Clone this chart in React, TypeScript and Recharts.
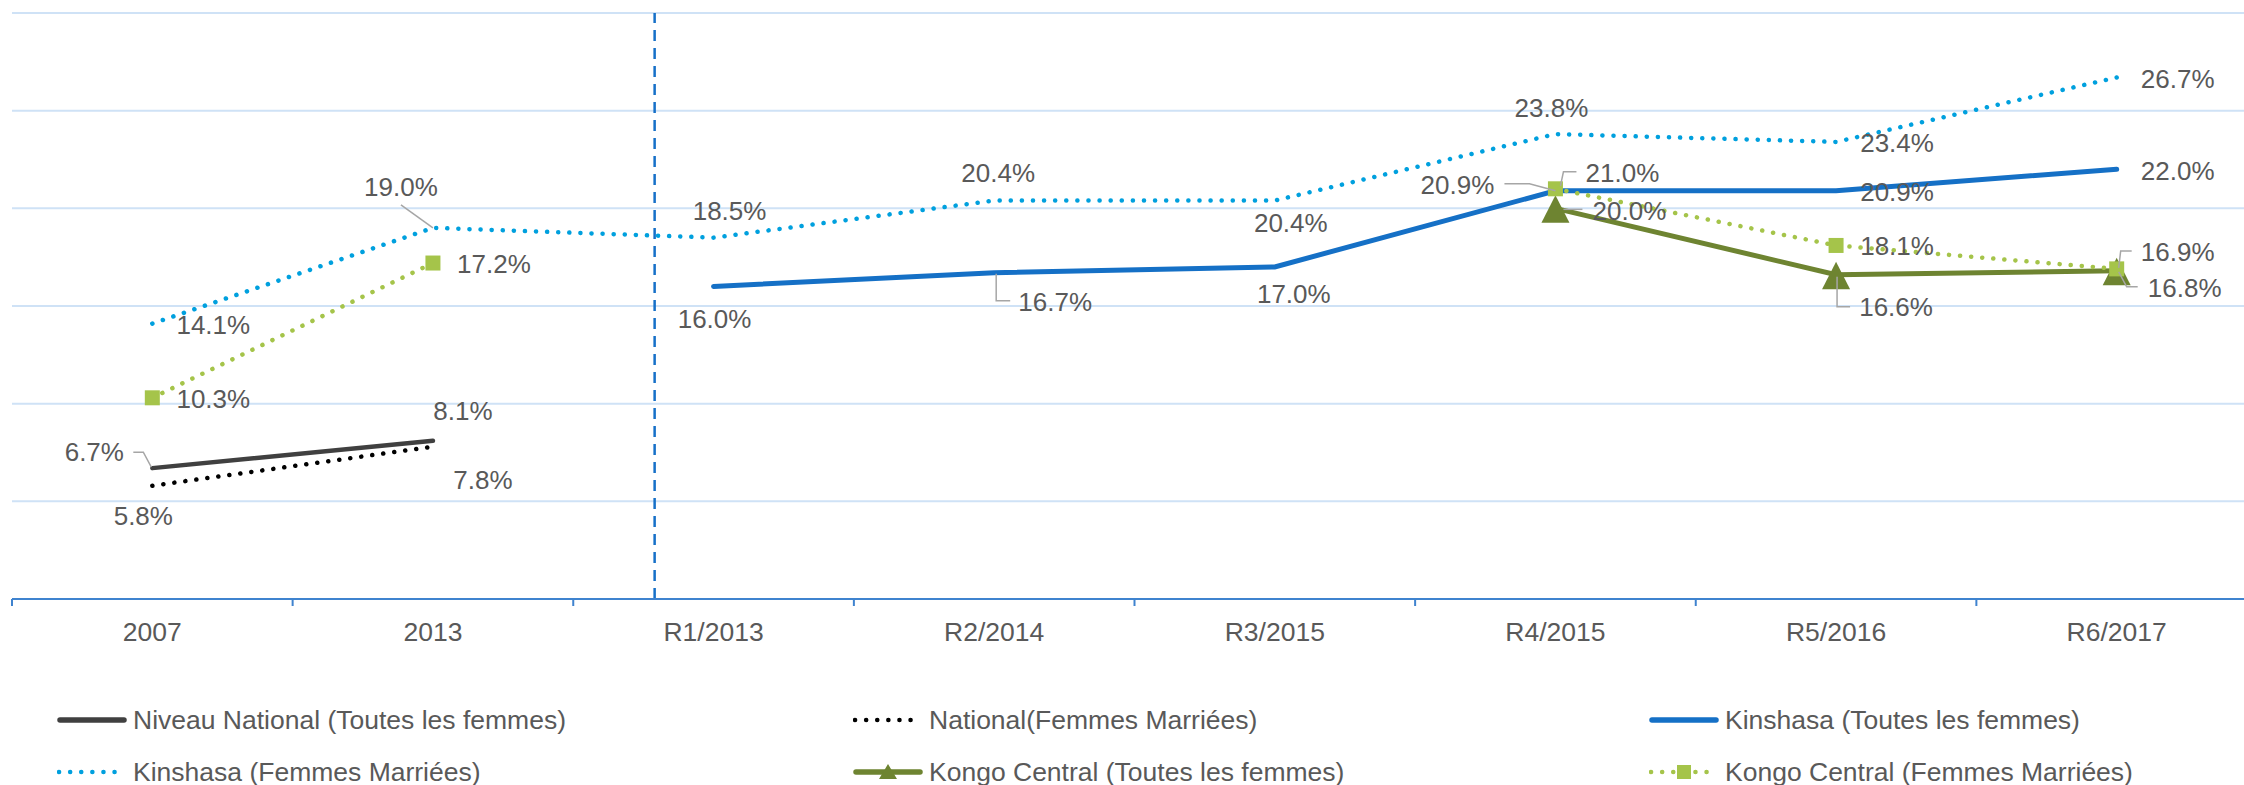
import React from 'react';
import { LineChart, Line, XAxis, YAxis, CartesianGrid, ReferenceLine, Legend } from 'recharts';

// ---------- DATA ----------
const categories = ['2007', '2013', 'R1/2013', 'R2/2014', 'R3/2015', 'R4/2015', 'R5/2016', 'R6/2017'];
const nationalToutes = [6.7, 8.1, null, null, null, null, null, null];
const nationalMariees = [5.8, 7.8, null, null, null, null, null, null];
const kinshasaToutes = [null, null, 16.0, 16.7, 17.0, 20.9, 20.9, 22.0];
const kinshasaMariees = [14.1, 19.0, 18.5, 20.4, 20.4, 23.8, 23.4, 26.7];
const kongoToutes = [null, null, null, null, null, 20.0, 16.6, 16.8];
const kongoMariees = [10.3, 17.2, null, null, null, 21.0, 18.1, 16.9];
const yTicks = [0, 5, 10, 15, 20, 25, 30];
const dividerPosition = 1.79;

const seriesNames = {
  natT: 'Niveau National (Toutes les femmes)',
  natM: 'National(Femmes Marriées)',
  kinT: 'Kinshasa (Toutes les femmes)',
  kinM: 'Kinshasa (Femmes Marriées)',
  kcT: 'Kongo Central (Toutes les femmes)',
  kcM: 'Kongo Central (Femmes Marriées)',
};

const data = categories.map((c, i) => ({
  idx: i,
  cat: c,
  natT: nationalToutes[i],
  natM: nationalMariees[i],
  kinT: kinshasaToutes[i],
  kinM: kinshasaMariees[i],
  kcT: kongoToutes[i],
  kcM: kongoMariees[i],
}));

const centerTicks = categories.map((_, i) => i);
const boundaryTicks = [...categories.map((_, i) => i - 0.5), categories.length - 0.5];

// ---------- STYLES ----------
const FONT = 'Liberation Sans, Arial, sans-serif';
const TEXT = '#595959';

type Style = { color: string; width: number; dotted: boolean; marker?: 'triangle' | 'square' };
const styles: Record<string, Style> = {
  natT: { color: '#404040', width: 4.5, dotted: false },
  natM: { color: '#000000', width: 4.5, dotted: true },
  kinT: { color: '#1570C6', width: 5, dotted: false },
  kinM: { color: '#00A0DE', width: 4.5, dotted: true },
  kcT: { color: '#6E8431', width: 5, dotted: false, marker: 'triangle' },
  kcM: { color: '#A5C44A', width: 4.5, dotted: true, marker: 'square' },
};
const order = ['natT', 'natM', 'kinT', 'kinM', 'kcT', 'kcM'];

// label placement: [dx, dy, leader polyline relative to the point]
type Place = [number, number, number[][]?] | null;
const labelPlacements: Record<string, Place[]> = {
  natT: [[-58, -16, [[-19, -16], [-9, -16], [-1, -1]]], [30, -30], null, null, null, null, null, null],
  natM: [[-9, 30], [50, 33], null, null, null, null, null, null],
  kinT: [null, null, [1, 33], [61, 29, [[2, 1], [2, 28], [16, 28]]], [19, 27], [-98, -6, [[-51, -7], [-26, -7], [0, 0]]], [61, 1], [61, 2]],
  kinM: [[61, 1], [-32, -41, [[-32, -23], [0, 0]]], [16, -27], [4, -28], [16, 22], [-4, -26], [61, 1], [61, 2]],
  kcT: [null, null, null, null, null, [74, 3, [[8, 1], [27, 1]]], [60, 32, [[1, 2], [1, 32], [14, 32]]], [68, 17, [[2, 1], [10, 16], [21, 16]]]],
  kcM: [[61, 1], [61, 1], null, null, null, [67, -16, [[5, -3], [8, -17], [21, -17]]], [61, 1], [61, -17, [[2, -1], [4, -18], [15, -18]]]],
};

const makeLabel = (key: string) => (props: any) => {
  const { x, y, value, index } = props;
  if (value == null || x == null || y == null) return null;
  const p = labelPlacements[key][index];
  if (!p) return null;
  const [dx, dy, leader] = p;
  return (
    <g key={`${key}-lbl-${index}`}>
      {leader && (
        <polyline
          points={leader.map(([lx, ly]) => `${x + lx},${y + ly}`).join(' ')}
          fill="none"
          stroke="#A6A6A6"
          strokeWidth={1.5}
        />
      )}
      <text x={x + dx} y={y + dy + 9} textAnchor="middle" fontSize={26} fill={TEXT} fontFamily={FONT}>
        {Number(value).toFixed(1)}%
      </text>
    </g>
  );
};

const makeDot = (key: string) => (props: any) => {
  const { cx, cy, value, index } = props;
  const s = styles[key];
  if (value == null || cx == null || cy == null) return <g key={`${key}-d-${index}`} />;
  if (s.marker === 'triangle') {
    return (
      <polygon
        key={`${key}-d-${index}`}
        points={`${cx},${cy - 13} ${cx - 14},${cy + 14.5} ${cx + 14},${cy + 14.5}`}
        fill={s.color}
      />
    );
  }
  if (s.marker === 'square') {
    return <rect key={`${key}-d-${index}`} x={cx - 7.5} y={cy - 7.5} width={15} height={15} fill={s.color} />;
  }
  return <g key={`${key}-d-${index}`} />;
};

const LegendIcon = ({ k }: { k: string }) => {
  const s = styles[k];
  return (
    <svg width={70} height={30} style={{ display: 'block', flex: '0 0 auto' }}>
      {s.dotted ? (
        <line x1={2} y1={15} x2={68} y2={15} stroke={s.color} strokeWidth={4.5} strokeLinecap="round" strokeDasharray="0.1 11" />
      ) : (
        <line x1={3} y1={15} x2={67} y2={15} stroke={s.color} strokeWidth={5.5} strokeLinecap="round" />
      )}
      {s.marker === 'triangle' && <polygon points="35,7 26,22 44,22" fill={s.color} />}
      {s.marker === 'square' && <rect x={28} y={8} width={14} height={14} fill={s.color} />}
    </svg>
  );
};

const LegendContent = (props: any) => {
  const payload = [...(props.payload || [])].sort(
    (a: any, b: any) => order.indexOf(a.dataKey) - order.indexOf(b.dataKey)
  );
  return (
    <div
      style={{
        display: 'grid',
        gridTemplateColumns: '796px 796px 796px',
        paddingLeft: 57,
        fontFamily: FONT,
        fontSize: 26.5,
        color: TEXT,
      }}
    >
      {payload.map((entry: any) => (
        <div key={entry.dataKey} style={{ height: 52, display: 'flex', alignItems: 'center', whiteSpace: 'nowrap' }}>
          <LegendIcon k={entry.dataKey} />
          <span style={{ marginLeft: 6 }}>{entry.value}</span>
        </div>
      ))}
    </div>
  );
};

export default function App() {
  return (
    <div style={{ position: 'fixed', left: 0, top: 0, width: 2244, height: 785, overflow: 'hidden', background: '#fff' }}>
      <LineChart width={2262} height={785} data={data} margin={{ top: 13, right: 5, left: 12, bottom: 136 }}>
        <CartesianGrid xAxisId="cats" vertical={false} stroke="#CFE2F6" strokeWidth={2} />
        <XAxis
          xAxisId="bounds"
          type="number"
          dataKey="idx"
          domain={[-0.5, categories.length - 0.5]}
          ticks={boundaryTicks}
          interval={0}
          height={10}
          axisLine={{ stroke: '#3F83CF', strokeWidth: 2 }}
          tickLine={{ stroke: '#3F83CF', strokeWidth: 2 }}
          tickSize={7}
          tickFormatter={() => ''}
        />
        <XAxis
          xAxisId="cats"
          type="number"
          dataKey="idx"
          domain={[-0.5, categories.length - 0.5]}
          ticks={centerTicks}
          interval={0}
          height={40}
          axisLine={false}
          tickLine={false}
          tickSize={0}
          tickMargin={13}
          tickFormatter={(v: number) => categories[v] ?? ''}
          tick={{ fontSize: 26.5, fill: TEXT, fontFamily: FONT }}
        />
        <YAxis hide domain={[0, 30]} ticks={yTicks} />
        <ReferenceLine
          xAxisId="cats"
          x={dividerPosition}
          stroke="#1670C8"
          strokeWidth={2.5}
          strokeDasharray="11 7"
        />
        {order.map((k) => {
          const s = styles[k];
          return (
            <Line
              key={k}
              xAxisId="cats"
              dataKey={k}
              name={seriesNames[k as keyof typeof seriesNames]}
              stroke={s.color}
              strokeWidth={s.width}
              strokeLinecap="round"
              strokeDasharray={s.dotted ? '0.1 11' : undefined}
              type="linear"
              connectNulls={false}
              dot={s.marker ? makeDot(k) : false}
              activeDot={false}
              label={makeLabel(k)}
              isAnimationActive={false}
            />
          );
        })}
        <Legend
          layout="vertical"
          align="center"
          verticalAlign="middle"
          wrapperStyle={{ left: 0, top: 694, width: 2262 }}
          content={<LegendContent />}
        />
      </LineChart>
    </div>
  );
}
